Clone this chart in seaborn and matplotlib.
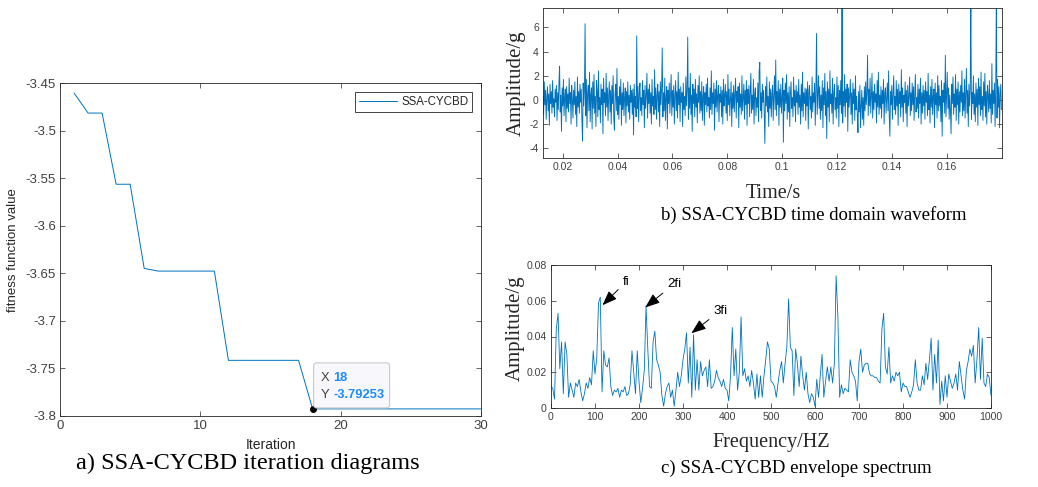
import numpy as np
import matplotlib
matplotlib.use("Agg")
import matplotlib.pyplot as plt
import matplotlib.transforms as mtransforms
from matplotlib.patches import FancyBboxPatch
from matplotlib.ticker import FuncFormatter
import seaborn as sns

# ---------------- data ----------------
# a) optimisation history of the SSA search
iterations = list(range(1, 31))
fitness = [-3.4605, -3.4816, -3.4816, -3.5564, -3.5564, -3.6449,
           -3.6477, -3.6477, -3.6477, -3.6477, -3.6477,
           -3.7415, -3.7415, -3.7415, -3.7415, -3.7415, -3.7415,
           -3.79253, -3.79253, -3.79253, -3.79253, -3.79253, -3.79253,
           -3.79253, -3.79253, -3.79253, -3.79253, -3.79253, -3.79253, -3.79253]
tip_iteration = 18
tip_value = -3.79253
fitness_xticks = [0, 10, 20, 30]
fitness_yticks = [-3.8, -3.75, -3.7, -3.65, -3.6, -3.55, -3.5, -3.45]

# b) filtered vibration signal (g)
wave_t_start, wave_t_end = 0.0128, 0.18
wave_amp = [
    0.3, -1.2, 1.5, -0.4, 0.8, -1.6, 0.2, 1.1, -0.9, 0.5, -2.1, 1.3, -0.3, 0.7, -1.1, 1.6, -0.6, 0.1, -1.4, 0.9,
    -0.2, 1.2, -1.7, 0.6, -0.8, 1.4, 2.8, -1.0, 0.4, -2.6, 1.0, -0.5, 1.7, -1.3, 0.2, 0.9, -1.8, 1.1, -0.7, 0.5,
    -1.0, 1.8, -0.3, 0.6, -2.0, 1.2, 0.1, -1.5, 0.8, -0.4, 1.5, -1.2, 0.3, -2.2, 1.9, -0.6, 0.7, -1.1, 1.3, -0.2,
    0.9, -1.6, -3.4, 1.4, -0.5, 0.8, 6.3, -1.3, 1.7, -2.3, 0.6, 1.2, -0.9, 2.3, -1.8, 0.4, 1.0, -2.4, 1.5, -0.7,
    2.1, -1.1, 0.3, -2.2, 1.6, 0.7, -1.4, 2.4, -0.8, 0.2, -1.9, 1.3, -0.4, 0.9, -2.8, 1.8, -0.2, 0.6, -1.3, 2.2,
    -0.6, 1.0, -1.7, 0.4, 1.5, -1.0, 0.8, -2.0, 1.2, -0.3, 2.0, -1.5, -2.5, 0.5, 1.3, -0.9, 2.6, -1.2, 0.3, -1.6,
    1.1, -0.4, 1.7, -2.1, 0.6, -0.8, 1.4, -1.3, 0.2, 1.0, -1.9, 0.7, -0.5, 1.5, -1.0, 0.4, -1.6, 1.2, -0.2, 0.8,
    -1.2, 0.9, -2.9, 1.3, -0.6, 0.3, -1.4, 5.3, -0.7, 1.1, -1.8, 0.5, 1.4, -0.9, 0.2, -1.3, 1.6, -0.4, 0.8, -2.3,
    1.2, -0.7, 0.4, 2.2, -1.5, 0.9, -0.3, 1.3, -1.1, 0.6, -2.0, 1.7, -0.5, 0.3, -1.2, 2.5, -0.8, 1.0, -1.6, 0.4,
    1.3, -1.0, 0.7, -2.2, 1.5, -0.4, 0.9, 4.3, -1.4, 0.6, -0.9, 1.8, -1.7, 0.2, 1.1, -2.4, 0.8, -0.3, 1.4, -1.1,
    0.5, 2.1, -1.3, 0.8, -0.6, 1.2, -2.0, 0.3, 1.6, -0.9, 0.7, -1.5, 2.3, -0.4, 0.9, -1.8, 1.1, -0.2, 0.6, -2.2,
    1.4, -0.8, 0.3, -1.3, 1.9, -0.5, 0.8, 5.2, -1.6, 1.0, -0.7, 2.2, -1.2, 0.4, -2.6, 1.3, -0.3, 0.9, -1.4, 1.7,
    -0.6, 0.5, -1.9, 1.2, -0.2, 2.0, -1.1, 0.7, -0.9, 1.5, -1.7, 0.3, 1.1, -2.1, 0.6, -0.4, 1.3, -1.0, 1.8, -0.5,
    0.2, -1.5, 1.0, -0.8, 2.4, -1.2, 0.6, -0.3, 1.4, -2.5, 0.9, -0.6, 1.6, -1.0, 0.4, 1.2, -1.8, 0.5, -0.2, 1.1,
    -1.4, 0.8, -2.0, 1.7, -0.5, 0.3, 1.3, -1.1, 0.7, -1.7, 2.1, -0.4, 0.9, -1.3, 0.2, 1.5, -2.2, 0.6, -0.7, 1.2,
    -1.0, 0.4, 1.8, -1.5, 0.7, -0.2, 1.1, -2.3, 1.4, -0.6, 0.5, -1.2, 2.0, -0.9, 0.3, 1.3, -1.6, 0.8, -0.4, 1.6,
    -2.1, 0.9, -0.3, 1.2, -1.4, 0.6, 2.2, -1.1, 0.4, -0.8, 1.7, -2.0, 0.5, 1.0, -1.3, 0.2, -0.6, 1.4, -1.8, 2.4,
    3.1, -0.9, 0.6, -1.5, 1.3, -0.2, 0.8, -1.2, -3.6, 1.1, -0.5, 1.9, -1.0, 0.3, -2.2, 1.5, -0.7, 0.9, -1.4, 0.5,
    1.2, -1.7, 0.4, 2.0, -0.8, 3.3, -1.3, 0.7, -0.4, 1.6, -2.1, 0.9, -0.6, 1.3, -1.1, 0.2, 1.8, -3.5, 0.8, -0.9,
    1.4, -0.3, 2.1, -1.6, 0.6, -1.0, 1.1, -2.2, 0.5, 1.5, -0.7, 0.2, -1.4, 1.9, -0.5, 0.8, -1.8, 1.2, -0.2, 0.7,
    -1.2, 1.7, -0.6, 0.4, -2.0, 1.3, -0.9, 2.3, -1.4, 0.6, -0.3, 1.0, -1.7, 0.9, -0.5, 1.5, -2.4, 0.7, 1.2, -0.8,
    0.3, -1.5, 1.9, -1.0, 0.6, -0.2, 1.4, -2.1, 0.8, 5.5, -1.2, 0.5, 2.0, -0.7, 1.1, -1.6, 0.4, -0.9, 1.6, -2.3,
    1.0, -0.4, 2.2, -1.3, 0.7, -3.2, 1.5, -0.6, 0.9, -1.8, 2.4, -0.3, 0.5, -1.1, 1.8, -2.0, 0.6, 1.3, -0.8, 0.2,
    -1.5, 1.9, -0.7, 1.2, -2.2, 0.8, -0.4, 1.6, -1.1, 9.0, -1.9, 0.7, -0.5, 2.1, -1.4, 0.9, -0.2, 1.3, -2.6, 1.0,
    -0.6, 0.4, 1.7, -1.2, 0.6, -2.0, 1.4, -0.3, 0.9, -1.7, 2.0, -0.8, 0.3, -1.4, -2.7, 0.7, -1.0, 1.2, -2.3, -0.5,
    0.8, -1.6, 0.2, -2.1, 1.1, -0.9, 1.5, -0.4, 0.6, 3.7, -1.3, 0.9, -0.5, 1.8, -1.1, 0.3, 2.2, -1.5, 0.7, -0.8,
    1.3, -0.2, 0.5, -1.9, 1.6, -0.6, 2.3, -1.2, 0.4, -0.7, 1.1, -1.5, 0.8, -0.3, 1.7, -2.0, 0.6, 1.0, -1.1, 0.2,
    1.4, -0.9, 2.4, -1.3, -3.0, 0.7, -0.4, 1.2, -1.6, 0.5, 2.0, -0.8, 0.3, -1.2, 1.6, -0.5, 0.9, -2.1, 1.3, -0.3,
    0.7, -1.4, 2.5, -0.6, 1.0, -1.8, 0.4, -0.2, 1.5, -1.1, 0.8, -2.2, 1.2, -0.5, 0.3, 1.9, -1.3, 0.6, -0.9, 1.4,
    -0.4, 1.1, -1.7, 0.5, 2.1, -1.0, 0.2, -0.7, 1.3, -1.5, 0.9, -0.3, 1.8, -2.0, 0.6, -1.1, 1.2, -0.5, 0.8, -1.6,
    1.5, -0.2, 0.7, -1.3, 2.2, -0.8, 0.4, -1.9, 1.1, -0.6, 1.7, -1.2, 0.3, 0.9, -2.3, 1.4, -0.4, 0.6, -1.5, 2.0,
    -0.9, 1.2, -0.5, 0.3, -1.8, 1.6, -3.0, 0.8, -0.2, 1.4, -1.1, 3.7, -1.4, 0.6, 2.3, -0.7, 1.0, -1.6, 0.4, -0.8,
    -2.8, 1.3, -0.3, 1.9, -1.2, 0.5, -0.6, 2.1, -1.7, 0.9, -0.4, 1.5, -2.0, 0.7, -1.0, 1.2, -0.2, 2.4, -1.3, 0.6,
    -0.9, 1.7, -1.5, 0.4, 2.6, -1.1, 0.8, -2.2, 1.3, -0.5, 0.9, 8.5, -1.6, 0.6, -0.3, 2.0, -1.2, 0.5, -1.8, 1.4,
    -0.6, 0.9, -2.1, 1.8, -0.4, 1.1, -1.3, 2.3, -0.8, 0.3, -1.7, 1.5, -0.5, 2.2, -1.4, 0.7, -2.0, 1.2, 0.4, -1.0,
    1.6, -0.7, 0.5, -1.9, 3.0, -1.2, 0.8, -0.3, 1.4, -2.2, 0.9, 8.5, -1.5, 1.7, -0.6, 1.1, -2.3, 0.4, 1.3, -0.8,
]
wave_xticks = [0.02, 0.04, 0.06, 0.08, 0.1, 0.12, 0.14, 0.16]
wave_yticks = [-4, -2, 0, 2, 4, 6]

# c) envelope spectrum, 4 Hz bins, amplitude in milli-g
spec_bin_hz = 4
spec_milli_g = [
    12, 11, 5, 44, 53, 22, 37, 8, 37, 30,
    6, 14, 10, 6, 14, 12, 16, 9, 4, 8,
    14, 11, 17, 13, 32, 19, 28, 59, 62, 9,
    32, 24, 23, 28, 12, 7, 10, 9, 11, 6,
    10, 9, 12, 7, 8, 13, 32, 20, 8, 32,
    15, 3, 11, 21, 57, 33, 12, 11, 37, 43,
    27, 24, 20, 7, 1, 8, 12, 14, 6, 10,
    1, 10, 20, 12, 18, 27, 33, 42, 14, 34,
    6, 41, 10, 27, 10, 26, 18, 21, 23, 12,
    27, 11, 12, 15, 21, 17, 15, 12, 16, 11,
    10, 4, 18, 45, 18, 33, 10, 20, 51, 18,
    22, 15, 18, 12, 21, 14, 5, 19, 6, 18,
    6, 18, 27, 37, 33, 15, 14, 12, 6, 14,
    21, 26, 14, 25, 34, 61, 34, 32, 7, 33,
    25, 12, 29, 18, 10, 20, 8, 3, 8, 6,
    1, 16, 6, 18, 30, 6, 15, 23, 15, 23,
    14, 25, 74, 51, 6, 13, 8, 11, 10, 9,
    27, 20, 18, 15, 4, 26, 33, 20, 24, 25,
    25, 19, 18, 18, 17, 17, 15, 14, 44, 53,
    23, 19, 34, 14, 18, 15, 20, 18, 20, 9,
    14, 12, 12, 9, 6, 9, 13, 27, 14, 10,
    10, 18, 13, 25, 16, 27, 39, 10, 30, 14,
    38, 2, 15, 4, 18, 6, 19, 15, 11, 14,
    19, 10, 26, 18, 10, 5, 21, 26, 33, 29,
    35, 14, 27, 45, 16, 39, 14, 12, 19, 17,
    7,
]
spec_xticks = [0, 100, 200, 300, 400, 500, 600, 700, 800, 900, 1000]
spec_yticks = [0, 0.02, 0.04, 0.06, 0.08]
harmonic_names = ["fi", "2fi", "3fi"]
harmonic_tips = [(117, 0.0575), (214, 0.0562), (319, 0.0418)]
harmonic_text = [(170, 0.0705), (280, 0.0695), (385, 0.0545)]

# ---------------- style ----------------
LINE_BLUE = "#0072BD"
AXIS_GREY = "#262626"
TICK_GREY = "#404040"
SERIF = ["Liberation Serif", "DejaVu Serif"]

sns.set_style("ticks")
plt.rcParams["font.family"] = ["Liberation Sans", "DejaVu Sans"]
plt.rcParams["axes.edgecolor"] = AXIS_GREY
plt.rcParams["axes.linewidth"] = 0.6

W, H = 1038, 487
fig = plt.figure(figsize=(W / 100, H / 100), dpi=100)


def box(left, top, right, bottom):
    return [left / W, 1 - bottom / H, (right - left) / W, (bottom - top) / H]


def fig_text(x, y, s, **kw):
    fig.text(x / W, 1 - y / H, s, ha="center", va="center", **kw)


def style_axes(ax, size):
    for sp in ax.spines.values():
        sp.set_visible(True)
        sp.set_color(AXIS_GREY)
        sp.set_linewidth(0.6)
    ax.tick_params(which="both", direction="in", top=True, right=True,
                   length=3.5, width=0.5, color=AXIS_GREY,
                   labelsize=size, labelcolor=TICK_GREY, pad=3)
    fmt = FuncFormatter(lambda v, p: f"{v:g}")
    ax.xaxis.set_major_formatter(fmt)
    ax.yaxis.set_major_formatter(fmt)
    ax.set_xlabel("")
    ax.set_ylabel("")


# ---- a) fitness curve ----
ax_a = fig.add_axes(box(60, 83, 481, 416))
sns.lineplot(x=iterations, y=fitness, ax=ax_a, color=LINE_BLUE, linewidth=0.7,
             label="SSA-CYCBD", estimator=None)
ax_a.set_xlim(0, 30)
ax_a.set_ylim(-3.8, -3.45)
ax_a.set_xticks(fitness_xticks)
ax_a.set_yticks(fitness_yticks)
style_axes(ax_a, 9.5)
leg = ax_a.legend(loc="upper right", fancybox=False, edgecolor=AXIS_GREY,
                  framealpha=1, fontsize=8.3, handlelength=3.3,
                  borderaxespad=0.75, borderpad=0.35, handletextpad=0.4)
leg.get_frame().set_linewidth(0.6)
for t in leg.get_texts():
    t.set_color(AXIS_GREY)
ax_a.plot([tip_iteration], [tip_value], "o", color="black", ms=4,
          zorder=6, clip_on=False)

# data tip box beside the marked point
px, py = ax_a.transData.transform((tip_iteration, tip_value))
ident = mtransforms.IdentityTransform()
fig.add_artist(FancyBboxPatch((px + 1, py + 1), 76, 45,
                              boxstyle="round,pad=0,rounding_size=3",
                              transform=ident, facecolor="#f8f8fc",
                              edgecolor="#c8c8d0", linewidth=0.8, zorder=5))
tip_font = dict(transform=ident, va="center", ha="left", fontsize=9.3, zorder=7)
fig.text(px + 8, py + 31, "X", color=TICK_GREY, **tip_font)
fig.text(px + 21, py + 31, f"{tip_iteration}", color="#1a8cff",
         fontweight="bold", **tip_font)
fig.text(px + 8, py + 14, "Y", color=TICK_GREY, **tip_font)
fig.text(px + 21, py + 14, f"{tip_value:.5f}", color="#1a8cff",
         fontweight="bold", **tip_font)

fig_text(271, 445, "Iteration", fontsize=10, color=AXIS_GREY)
fig_text(13, 250, "fitness function value", fontsize=9.5, color=AXIS_GREY,
         rotation=90)
fig_text(248, 463, "a) SSA-CYCBD iteration diagrams", fontsize=17.5,
         family=SERIF, color="black")

# ---- b) time-domain waveform ----
ax_b = fig.add_axes(box(543, 8, 1002, 158))
wave_t = np.linspace(wave_t_start, wave_t_end, len(wave_amp))
sns.lineplot(x=wave_t, y=wave_amp, ax=ax_b, color=LINE_BLUE, linewidth=0.65,
             estimator=None, sort=False)
ax_b.set_xlim(0.0128, 0.1802)
ax_b.set_ylim(-4.8, 7.6)
ax_b.set_xticks(wave_xticks)
ax_b.set_yticks(wave_yticks)
style_axes(ax_b, 7.5)
fig_text(516, 83, "Amplitude/g", fontsize=15, family=SERIF, rotation=90,
         color=AXIS_GREY)
fig_text(773, 194, "Time/s", fontsize=14.5, family=SERIF, color=AXIS_GREY)
fig_text(814, 215, "b) SSA-CYCBD time domain waveform", fontsize=13.5,
         family=SERIF, color="black")

# ---- c) envelope spectrum ----
ax_c = fig.add_axes(box(551, 265, 991, 408))
spec_f = np.arange(len(spec_milli_g)) * spec_bin_hz
spec_amp = np.array(spec_milli_g) / 1000.0
sns.lineplot(x=spec_f, y=spec_amp, ax=ax_c, color=LINE_BLUE, linewidth=0.6,
             estimator=None)
ax_c.set_xlim(0, 1000)
ax_c.set_ylim(0, 0.08)
ax_c.set_xticks(spec_xticks)
ax_c.set_yticks(spec_yticks)
style_axes(ax_c, 7.6)
for name, tip, txt in zip(harmonic_names, harmonic_tips, harmonic_text):
    ax_c.annotate(name, xy=tip, xytext=txt, ha="center", va="center",
                  fontsize=9.5, color="black",
                  arrowprops=dict(arrowstyle="-|>,head_length=0.45,head_width=0.17",
                                  mutation_scale=20, color="black", lw=0.7,
                                  shrinkA=1, shrinkB=0))
fig_text(515, 328, "Amplitude/g", fontsize=15, family=SERIF, rotation=90,
         color=AXIS_GREY)
fig_text(771, 443, "Frequency/HZ", fontsize=14.5, family=SERIF,
         color=AXIS_GREY)
fig_text(796, 468, "c) SSA-CYCBD envelope spectrum", fontsize=13.5,
         family=SERIF, color="black")

fig.savefig("out.png", dpi=100)
